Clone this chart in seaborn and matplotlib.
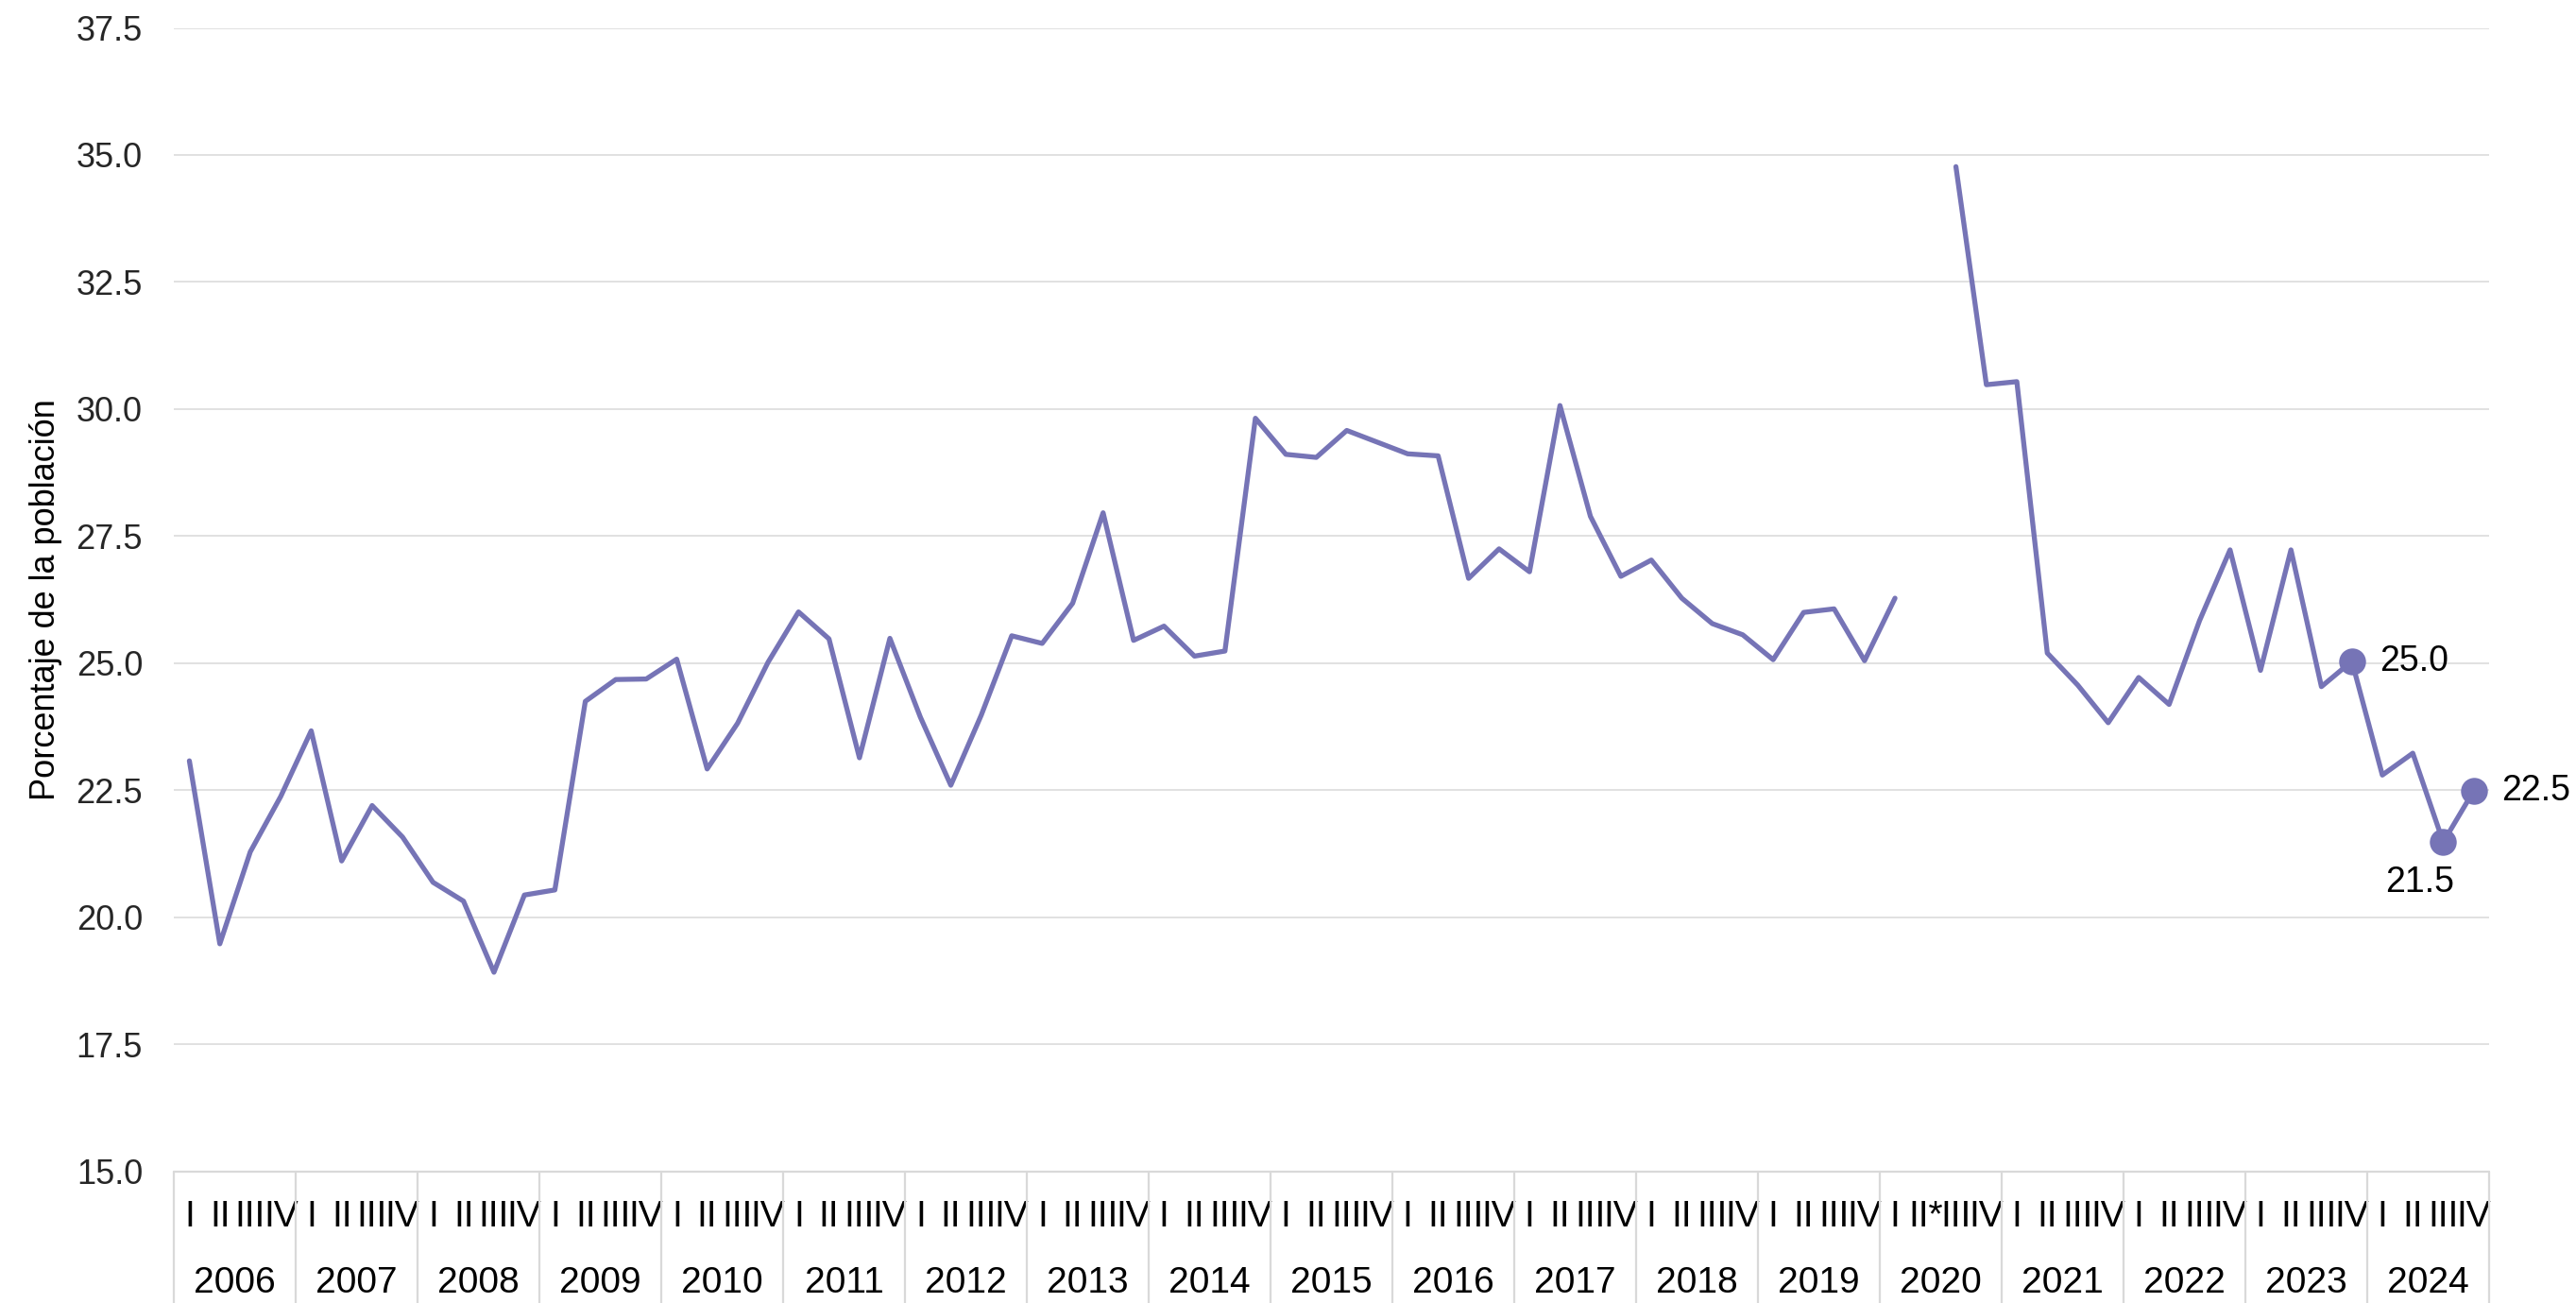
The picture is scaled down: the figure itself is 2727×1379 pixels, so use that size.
import numpy as np
import pandas as pd
import matplotlib
matplotlib.use('Agg')
import matplotlib.pyplot as plt
import matplotlib.transforms as mtransforms
import seaborn as sns

years = list(range(2006, 2025))
quarters = ['I', 'II', 'III', 'IV']

# porcentaje de la poblacion, trimestral 2006-I a 2024-IV (2020-II sin dato)
valores = [
    23.08, 19.48, 21.29, 22.38,
    23.67, 21.11, 22.20, 21.58,
    20.69, 20.32, 18.92, 20.44,
    20.54, 24.25, 24.68, 24.69,
    25.08, 22.92, 23.82, 25.02,
    26.01, 25.48, 23.14, 25.49,
    23.94, 22.60, 23.98, 25.54,
    25.39, 26.18, 27.96, 25.45,
    25.73, 25.14, 25.24, 29.82,
    29.11, 29.05, 29.58, 29.35,
    29.12, 29.08, 26.67, 27.25,
    26.80, 30.07, 27.89, 26.71,
    27.03, 26.28, 25.78, 25.56,
    25.07, 26.00, 26.07, 25.05,
    26.28, np.nan, 34.77, 30.48,
    30.54, 25.20, 24.57, 23.83,
    24.72, 24.19, 25.84, 27.23,
    24.86, 27.23, 24.54, 25.04,
    22.80, 23.23, 21.48, 22.49,
]

etiquetas_trim = []
for y in years:
    for q in quarters:
        etiquetas_trim.append('II*' if (y == 2020 and q == 'II') else q)

destacados = [71, 74, 75]   # 2023-IV, 2024-III, 2024-IV

color = '#7674b6'
gris = '#d9d9d9'

df = pd.DataFrame({'idx': range(len(valores)), 'valor': valores})
gap = df['valor'].isna()
primer = df.loc[:gap.idxmax() - 1]
segundo = df.loc[gap.idxmax() + 1:]

sns.set_style('white')
plt.rcParams['font.family'] = ['Liberation Sans', 'DejaVu Sans']

fig = plt.figure(figsize=(27.27, 13.79), dpi=100)
ax = fig.add_axes([0.0676, 0.1009, 0.8986, 0.8777])

for parte in [primer, segundo]:
    sns.lineplot(data=parte, x='idx', y='valor', color=color, linewidth=3.8, ax=ax)

pts = df.loc[destacados]
sns.scatterplot(data=pts, x='idx', y='valor', color=color, s=420, edgecolor=color,
                linewidth=0, ax=ax, zorder=5, clip_on=False)

offsets = {71: (21, 0, 'left', 'center'), 74: (-18, -31, 'center', 'center'),
           75: (21, 0, 'left', 'center')}
for i in destacados:
    dx, dy, ha, va = offsets[i]
    ax.annotate(f'{valores[i]:.1f}', (i, valores[i]), xytext=(dx, dy),
                textcoords='offset points', ha=ha, va=va, fontsize=27,
                color='black', annotation_clip=False)

ax.set_xlim(-0.5, len(valores) - 0.5)
ax.set_ylim(15, 37.5)
ax.set_yticks(np.arange(15, 37.6, 2.5))
ax.set_yticklabels([f'{v:.1f}' for v in np.arange(15, 37.6, 2.5)], fontsize=26, color='#262626')
ax.grid(axis='y', color=gris, linewidth=1.1)
ax.grid(axis='x', visible=False)
for s in ['top', 'right', 'left', 'bottom']:
    ax.spines[s].set_visible(False)
ax.axhline(15, color=gris, linewidth=1.6, clip_on=False)

narrow = ['Liberation Sans Narrow', 'Liberation Sans', 'DejaVu Sans']
ax.set_xticks(range(len(valores)))
ax.set_xticklabels(etiquetas_trim, fontsize=28, family=narrow, color='black')
for lbl in ax.get_xticklabels():
    lbl.set_va('center')
ax.tick_params(axis='x', length=0, pad=35)
ax.tick_params(axis='y', length=0, pad=24)

trans = mtransforms.blended_transform_factory(ax.transData, ax.transAxes)
for k in range(len(years) + 1):
    ax.plot([4 * k - 0.5, 4 * k - 0.5], [0, -0.115], color=gris, linewidth=1.6,
            transform=trans, clip_on=False)
for k, y in enumerate(years):
    ax.text(4 * k + 1.5, -0.0977, str(y), transform=trans, ha='center', va='center',
            fontsize=28, family=narrow, color='black')

ax.set_xlabel('')
ax.set_ylabel('')
fig.text(0.0179, 0.5397, 'Porcentaje de la población', rotation=90, ha='center',
         va='center', fontsize=26, family=narrow, color='black')

fig.savefig('out.png', dpi=100)
